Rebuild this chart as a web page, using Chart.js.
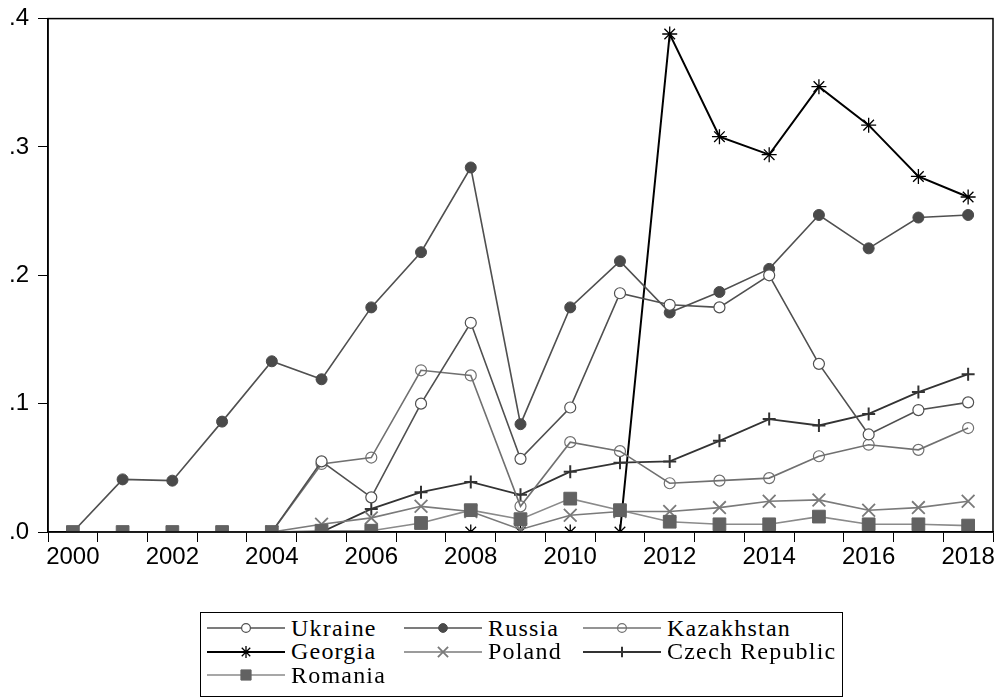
<!DOCTYPE html>
<html>
<head>
<meta charset="utf-8">
<script src="https://cdn.jsdelivr.net/npm/chart.js@4.4.1/dist/chart.umd.min.js"></script>
<style>
    body { margin: 0; background: #fff; width: 1006px; height: 700px; position: relative; overflow: hidden; }
    #chartBox { position: absolute; left: 0; top: 0; width: 1006px; height: 600px; }
    #legend { position: absolute; left: 200px; top: 612px; width: 641px; height: 83px; border: 1px solid #000; background: #fff; }
    .item { position: absolute; display: flex; align-items: center; height: 24px;
            font-family: "Liberation Serif", "Times New Roman", serif; font-size: 24px;
            letter-spacing: 1.2px; color: #000; white-space: nowrap; }
    .item canvas { margin-right: 6px; }
</style>
</head>
<body>
<div id="chartBox"><canvas id="chart" width="1006" height="600"></canvas></div>
<div id="legend"></div>
<script>
// Categories
const years = ['2000', '2001', '2002', '2003', '2004', '2005', '2006', '2007', '2008', '2009',
               '2010', '2011', '2012', '2013', '2014', '2015', '2016', '2017', '2018'];

// Series values
const ukraine    = [null, null, null, null, 0, 0.055, 0.027, 0.100, 0.163, 0.057, 0.097, 0.186, 0.177, 0.175, 0.200, 0.131, 0.076, 0.095, 0.101];
const russia     = [0, 0.041, 0.040, 0.086, 0.133, 0.119, 0.175, 0.218, 0.284, 0.084, 0.175, 0.211, 0.171, 0.187, 0.205, 0.247, 0.221, 0.245, 0.247];
const kazakhstan = [null, null, null, null, 0, 0.053, 0.058, 0.126, 0.122, 0.020, 0.070, 0.063, 0.038, 0.040, 0.042, 0.059, 0.068, 0.064, 0.081];
const georgia    = [null, null, null, null, null, null, null, null, 0, 0, 0, 0, 0.388, 0.308, 0.294, 0.347, 0.317, 0.277, 0.261];
const poland     = [null, null, null, null, 0, 0.006, 0.011, 0.020, 0.016, 0.002, 0.013, 0.016, 0.016, 0.019, 0.024, 0.025, 0.017, 0.019, 0.024];
const czech      = [null, null, null, null, null, 0, 0.018, 0.031, 0.039, 0.029, 0.047, 0.054, 0.055, 0.071, 0.088, 0.083, 0.092, 0.109, 0.123];
const romania    = [0, 0, 0, 0, 0, 0.001, 0.001, 0.007, 0.017, 0.010, 0.026, 0.017, 0.008, 0.006, 0.006, 0.012, 0.006, 0.006, 0.005];

// Y axis ticks
const yTicks = [0, 0.1, 0.2, 0.3, 0.4];

// Build one line dataset
function series(label, data, line, style, fill, stroke, radius, markWidth, lineWidth) {
    return {
        label: label,
        data: data,
        borderColor: line,
        borderWidth: lineWidth,
        backgroundColor: fill,
        pointStyle: style,
        pointRadius: radius,
        pointBackgroundColor: fill,
        pointBorderColor: stroke,
        pointBorderWidth: markWidth,
        pointHoverRadius: radius,
        tension: 0,
        spanGaps: false,
        clip: 0
    };
}

// first dataset is drawn on top
const datasets = [
    series('Romania', romania, '#8a8a8a', 'rect', '#626262', '#626262', 9, 1, 1.6),
    series('Ukraine', ukraine, '#505050', 'circle', '#ffffff', '#505050', 5.5, 1.2, 1.6),
    series('Kazakhstan', kazakhstan, '#707070', 'circle', 'rgba(0,0,0,0)', '#707070', 5.5, 1.2, 1.6),
    series('Russia', russia, '#505050', 'circle', '#4a4a4a', '#4a4a4a', 5.5, 1, 1.6),
    series('Poland', poland, '#7a7a7a', 'crossRot', '#7a7a7a', '#7a7a7a', 9, 1.8, 1.6),
    series('Czech Republic', czech, '#333333', 'cross', '#333333', '#333333', 6.5, 2, 1.8),
    series('Georgia', georgia, '#000000', 'star', '#000000', '#000000', 7.5, 1.3, 2)
];

const tickFont = { family: '"Liberation Sans", Arial, sans-serif', size: 24, lineHeight: 0.8 };

// Box around the plot area
const framePlugin = {
    id: 'frame',
    afterDraw(chart) {
        const { ctx, chartArea: a } = chart;
        ctx.save();
        ctx.strokeStyle = '#000';
        ctx.lineWidth = 1.5;
        ctx.strokeRect(a.left, a.top, a.right - a.left, a.bottom - a.top);
        ctx.restore();
    }
};

const chart = new Chart(document.getElementById('chart'), {
    type: 'line',
    data: { labels: years, datasets: datasets },
    options: {
        responsive: false,
        animation: false,
        devicePixelRatio: 1,
        layout: { padding: { top: 14, right: 13, left: 0, bottom: 0 } },
        plugins: {
            legend: { display: false },
            tooltip: { enabled: false }
        },
        scales: {
            x: {
                type: 'category',
                offset: true,
                afterFit(s) { s.height = 68; },
                grid: { offset: true, drawOnChartArea: false, drawTicks: true, tickLength: 10, color: '#000', lineWidth: 1 },
                border: { display: true, color: '#000', width: 1.5 },
                ticks: {
                    autoSkip: false,
                    maxRotation: 0,
                    padding: 6,
                    color: '#000',
                    font: tickFont,
                    callback(value, index) {
                        const y = years[index];
                        return Number(y) % 2 === 0 ? y : '';
                    }
                }
            },
            y: {
                min: yTicks[0],
                max: yTicks[yTicks.length - 1],
                afterFit(s) { s.width = 48; },
                afterBuildTicks(s) { s.ticks = yTicks.map(v => ({ value: v })); },
                grid: { drawOnChartArea: false, drawTicks: true, tickLength: 10, color: '#000', lineWidth: 1 },
                border: { display: true, color: '#000', width: 1.5 },
                ticks: {
                    padding: 9,
                    color: '#000',
                    font: tickFont,
                    callback(value) { return value.toFixed(1).replace(/^0/, ''); }
                }
            }
        }
    },
    plugins: [framePlugin]
});

// Legend laid out like the original: three columns
const legendOrder = ['Ukraine', 'Russia', 'Kazakhstan', 'Georgia', 'Poland', 'Czech Republic', 'Romania'];
const colLeft = [6, 203, 382];
const rowTop = [3, 26.5, 50];
const legendBox = document.getElementById('legend');

legendOrder.forEach((name, i) => {
    const ds = datasets.find(d => d.label === name);
    const item = document.createElement('div');
    item.className = 'item';
    item.style.left = colLeft[i % 3] + 'px';
    item.style.top = rowTop[Math.floor(i / 3)] + 'px';

    const c = document.createElement('canvas');
    c.width = 78;
    c.height = 24;
    const ctx = c.getContext('2d');
    ctx.strokeStyle = ds.borderColor;
    ctx.lineWidth = ds.borderWidth;
    ctx.beginPath();
    ctx.moveTo(0, 12);
    ctx.lineTo(78, 12);
    ctx.stroke();
    ctx.fillStyle = ds.pointBackgroundColor;
    ctx.strokeStyle = ds.pointBorderColor;
    ctx.lineWidth = ds.pointBorderWidth;
    Chart.helpers.drawPoint(ctx, {
        pointStyle: ds.pointStyle,
        radius: ds.pointRadius * 0.8,
        rotation: 0,
        borderWidth: ds.pointBorderWidth
    }, 39, 12);

    const label = document.createElement('span');
    label.textContent = name;
    item.appendChild(c);
    item.appendChild(label);
    legendBox.appendChild(item);
});
</script>
</body>
</html>
